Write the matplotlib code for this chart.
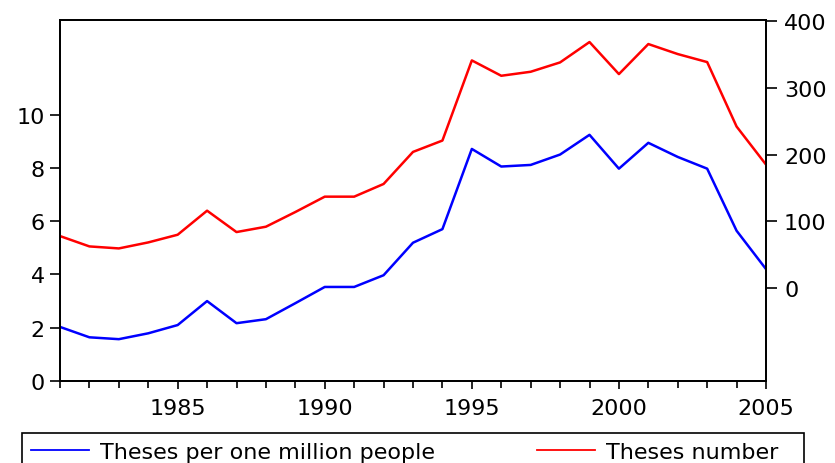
import matplotlib
matplotlib.use("Agg")
import matplotlib.pyplot as plt
from matplotlib.ticker import MultipleLocator
from matplotlib.patches import Rectangle

plt.rcParams['font.family'] = ['DejaVu Sans']

years = list(range(1981, 2006))
per_million = [2.03, 1.64, 1.57, 1.79, 2.10, 3.00, 2.17, 2.32, 2.92, 3.53, 3.53, 3.97,
               5.19, 5.70, 8.71, 8.05, 8.11, 8.50, 9.24, 7.97, 8.94, 8.41, 7.97, 5.64, 4.20]
theses_number = [78, 62.5, 59.5, 68.5, 80, 116, 84, 92, 114, 137, 137, 156,
                 204, 221, 341, 318, 324, 338, 368.5, 320.5, 365.5, 350.5, 338.5, 242, 185]
left_ticks = [0, 2, 4, 6, 8, 10]
right_ticks = [0, 100, 200, 300, 400]
x_ticks = [1985, 1990, 1995, 2000, 2005]
labels = ["Theses per one million people", "Theses number"]

W, H = 835, 464
fig = plt.figure(figsize=(W / 100, H / 100), dpi=100)
ax = fig.add_axes([60 / W, 1 - 382 / H, (766 - 60) / W, (382 - 21) / H])
ax2 = ax.twinx()

fs = 16
l1, = ax.plot(years, per_million, color=(0, 0, 1), lw=1.8)
l2, = ax2.plot(years, theses_number, color=(1, 0, 0), lw=1.8)

ax.set_xlim(1981, 2005)
ax.set_ylim(0, 13.55)
ax2.set_ylim(-139, 401.5)

ax.set_xticks(x_ticks)
ax.set_xticklabels([str(v) for v in x_ticks])
ax.xaxis.set_minor_locator(MultipleLocator(1))
ax.set_yticks(left_ticks)
ax.set_yticklabels([str(v) for v in left_ticks])
ax2.set_yticks(right_ticks)
ax2.set_yticklabels([str(v) for v in right_ticks])

for a in (ax, ax2):
    for s in a.spines.values():
        s.set_linewidth(1.3)
        s.set_color('black')

ax.tick_params(axis='x', which='major', direction='out', length=6, width=1.2, pad=6, labelsize=fs)
ax.tick_params(axis='x', which='minor', direction='out', length=5, width=1.2)
ax.tick_params(axis='y', direction='out', length=7, width=1.2, pad=4, labelsize=fs)
ax2.tick_params(axis='y', direction='out', length=8, width=1.2, pad=5, labelsize=fs)

# legend frame (open at the bottom edge of the figure, as in the reference)
frame = Rectangle((22 / W, -0.2), (804 - 22) / W, (1 - 434 / H) + 0.2,
                  transform=fig.transFigure, fill=False, edgecolor='black',
                  linewidth=1.2, clip_on=False)
fig.add_artist(frame)

leg = fig.legend([l1, l2], labels, loc='upper left', ncol=2,
                 bbox_to_anchor=(22 / W, 1 - 434 / H),
                 frameon=False, fontsize=fs, handlelength=2.6, handletextpad=0.5,
                 columnspacing=4.6, borderaxespad=0, borderpad=0.4)
for h in leg.legend_handles:
    h.set_linewidth(1.3)

fig.savefig("out.png", dpi=100)
